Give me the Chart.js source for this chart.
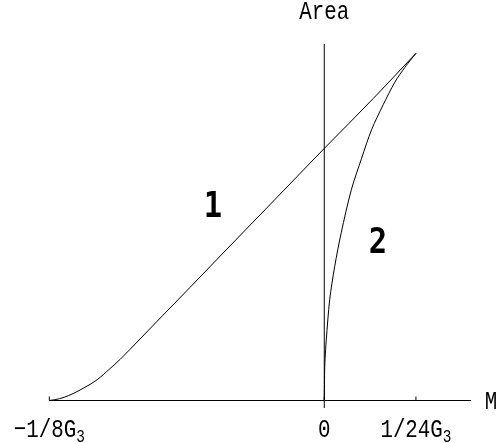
<!DOCTYPE html>
<html>
<head>
<meta charset="utf-8">
<script src="https://cdn.jsdelivr.net/npm/chart.js@4/dist/chart.umd.min.js"></script>
<style>
  html, body { margin: 0; padding: 0; background: #fff; }
  #wrap { width: 503px; height: 443px; }
</style>
</head>
<body>
<div id="wrap"><canvas id="areaChart" width="503" height="443"></canvas></div>
<script>
// M in units of G3, Area normalised so the meeting point is 1
const curve1M = [-0.125, -0.1224, -0.1183, -0.1142, -0.1088, -0.1033, -0.0974, -0.0929, -0.0838, -0.0733, -0.0610, -0.0429, -0.0247, 0, 0.0223, 0.04167];
const curve1A = [0, 0.0023, 0.0092, 0.0199, 0.038, 0.0596, 0.0919, 0.1178, 0.177, 0.2457, 0.326, 0.445, 0.564, 0.726, 0.870, 1.0];

const curve2M = [0, 0.0001, 0.0002, 0.0006, 0.0009, 0.00245, 0.0047, 0.0077, 0.0123, 0.0170, 0.0215, 0.0268, 0.0321, 0.0367, 0.04167];
const curve2A = [0, 0.045, 0.097, 0.146, 0.174, 0.290, 0.385, 0.483, 0.607, 0.698, 0.780, 0.852, 0.917, 0.960, 1.0];

const xTicks = [-1 / 8, 0, 1 / 24];
const xTickLabels = [['\u22121/8G', '3'], ['0', ''], ['1/24G', '3']];

// curve labels: [text, M, Area]
const curveLabels = [['1', -0.0506, 0.566], ['2', 0.0244, 0.461]];

const xLabel = 'M';
const yLabel = 'Area';

function toPoints(xs, ys) {
  return xs.map((x, i) => ({ x: x, y: ys[i] }));
}

//========================
// axes + texts
//========================
function drawSub(ctx, main, sub, cx, y, font, subFont, sx) {
  ctx.save();
  ctx.font = font;
  const wMain = ctx.measureText(main).width;
  ctx.font = subFont;
  const wSub = sub ? ctx.measureText(sub).width : 0;
  const total = (wMain + wSub) * sx;
  ctx.translate(cx - total / 2, y);
  ctx.scale(sx, 1);
  ctx.textAlign = 'left';
  ctx.textBaseline = 'alphabetic';
  ctx.font = font;
  ctx.fillText(main, 0, 0);
  if (sub) {
    ctx.font = subFont;
    ctx.fillText(sub, wMain, 5);
  }
  ctx.restore();
}

const mathAxes = {
  id: 'mathAxes',
  afterDatasetsDraw(chart) {
    const ctx = chart.ctx;
    const xs = chart.scales.x;
    const ys = chart.scales.y;
    const x0 = xs.getPixelForValue(0);
    const y0 = ys.getPixelForValue(0);

    ctx.save();
    ctx.strokeStyle = '#000';
    ctx.fillStyle = '#000';
    ctx.lineWidth = 1;

    ctx.beginPath();
    ctx.moveTo(xs.getPixelForValue(xs.min), y0);
    ctx.lineTo(xs.getPixelForValue(xs.max), y0);
    ctx.moveTo(x0, ys.getPixelForValue(ys.min));
    ctx.lineTo(x0, ys.getPixelForValue(ys.max));
    xTicks.forEach(t => {
      const px = xs.getPixelForValue(t);
      ctx.moveTo(px, y0);
      ctx.lineTo(px, y0 - 4);
    });
    ctx.stroke();

    const tickFont = '26px "Liberation Mono", "Courier New", monospace';
    const subFont = '18px "Liberation Mono", "Courier New", monospace';
    xTicks.forEach((t, i) => {
      const px = xs.getPixelForValue(t);
      drawSub(ctx, xTickLabels[i][0], xTickLabels[i][1], px, y0 + 36, tickFont, subFont, 0.8);
    });

    drawSub(ctx, xLabel, '', xs.getPixelForValue(xs.max) + 20, y0 + 8, tickFont, subFont, 0.8);
    drawSub(ctx, yLabel, '', x0, 19, tickFont, subFont, 0.8);

    const numFont = 'bold 36px "DejaVu Sans Mono", monospace';
    curveLabels.forEach(l => {
      drawSub(ctx, l[0], '', xs.getPixelForValue(l[1]), ys.getPixelForValue(l[2]) + 13, numFont, numFont, 0.85);
    });
    ctx.restore();
  }
};

const ctx = document.getElementById('areaChart').getContext('2d');
new Chart(ctx, {
  type: 'scatter',
  data: {
    datasets: [
      {
        label: '1',
        data: toPoints(curve1M, curve1A),
        showLine: true,
        borderColor: '#000',
        borderWidth: 1,
        pointRadius: 0,
        cubicInterpolationMode: 'monotone'
      },
      {
        label: '2',
        data: toPoints(curve2M, curve2A),
        showLine: true,
        borderColor: '#000',
        borderWidth: 1,
        pointRadius: 0,
        tension: 0.3
      }
    ]
  },
  options: {
    responsive: false,
    animation: false,
    layout: { padding: { left: 49.3, right: 32, top: 44, bottom: 35 } },
    plugins: { legend: { display: false }, tooltip: { enabled: false } },
    scales: {
      x: { type: 'linear', min: -0.125, max: 0.0667, display: false },
      y: { type: 'linear', min: -0.0216, max: 1.0268, display: false }
    }
  },
  plugins: [mathAxes]
});
</script>
</body>
</html>
